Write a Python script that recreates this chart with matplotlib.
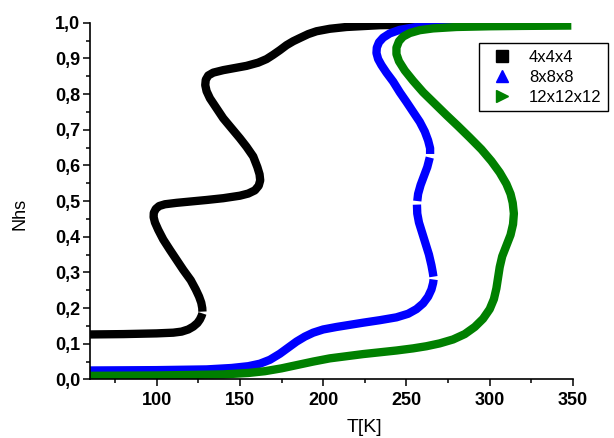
"""Nhs vs temperature for three lattice sizes."""

import matplotlib

matplotlib.use("Agg")
import matplotlib.pyplot as plt
import numpy as np
from matplotlib.lines import Line2D
from matplotlib.ticker import FuncFormatter, MultipleLocator

plt.rcParams["font.family"] = ["Liberation Sans", "DejaVu Sans"]

nan = np.nan

# 4x4x4 (small gap in the dense marker band near N = 0.19)
t_4 = [60, 80, 100, 110, 115, 119, 122, 124.5, 126, 127, 127.5, nan, 127.5, 127.4,
       126.8, 125.5, 123.5, 120.5, 116, 112, 108, 104, 101, 99, 98.2, 98.3, 99.5,
       101.5, 105, 112, 121, 130, 140, 150, 155, 159, 161.3, 162.2, 161.8, 160.5, 158,
       154, 150, 145, 140, 136, 132, 130, 129.2, 129.5, 131, 134, 140, 147, 154, 161,
       166, 170, 174, 178, 182, 186, 191, 196, 204, 214, 234, 260, 300, 330]
n_4 = [0.126, 0.127, 0.129, 0.131, 0.134, 0.140, 0.148, 0.158, 0.168, 0.178, 0.185,
       nan, 0.190, 0.200, 0.215, 0.232, 0.252, 0.278, 0.307, 0.335, 0.363, 0.392,
       0.419, 0.440, 0.455, 0.467, 0.478, 0.486, 0.491, 0.495, 0.499, 0.503, 0.508,
       0.515, 0.521, 0.530, 0.543, 0.558, 0.575, 0.595, 0.625, 0.652, 0.676, 0.704,
       0.732, 0.760, 0.788, 0.808, 0.825, 0.840, 0.852, 0.860, 0.867, 0.873, 0.879,
       0.888, 0.898, 0.910, 0.923, 0.937, 0.948, 0.957, 0.968, 0.976, 0.983, 0.988,
       0.993, 0.995, 0.996, 0.997]

# 8x8x8 (three small gaps)
t_8 = [60, 100, 130, 145, 155, 162, 168, 174, 179, 184, 189, 194, 200, 208, 216, 224,
       234, 244, 251, 256, 260, 263, 265, 266, 266.3, nan, 266.2, 265.8, 265, 263.5,
       261.5, 259.5, 257.5, 256.5, 256.3, nan, 256.5, 257, 258.5, 260.5, 262.5, 264,
       nan, 264.2, 264.2, 263, 261, 258, 254, 250, 246, 242, 238, 235, 233, 232, 232.2,
       233.5, 236, 240, 246, 256, 270, 290, 310]
n_8 = [0.025, 0.026, 0.028, 0.032, 0.037, 0.044, 0.055, 0.072, 0.089, 0.106, 0.120,
       0.131, 0.140, 0.147, 0.153, 0.159, 0.166, 0.174, 0.184, 0.197, 0.213, 0.232,
       0.252, 0.270, 0.280, nan, 0.288, 0.300, 0.320, 0.350, 0.380, 0.410, 0.440,
       0.465, 0.490, nan, 0.500, 0.520, 0.545, 0.570, 0.595, 0.622, nan, 0.632, 0.648,
       0.670, 0.695, 0.722, 0.750, 0.778, 0.805, 0.835, 0.860, 0.881, 0.898, 0.915,
       0.930, 0.945, 0.958, 0.970, 0.980, 0.988, 0.993, 0.995, 0.996]

# 12x12x12
t_12 = [60, 100, 140, 155, 165, 175, 184, 194, 204, 214, 224, 234, 244, 254, 262, 270,
        278, 285, 291, 296, 300, 302.5, 304, 305, 306, 307.5, 310, 312.5, 314, 314.5,
        313.8, 312.5, 310, 306, 301, 295, 288, 281, 274, 267, 260, 254, 249, 245.5, 244,
        244, 245.5, 248, 252, 258, 266, 280, 300, 320, 349]
n_12 = [0.010, 0.011, 0.014, 0.018, 0.023, 0.031, 0.040, 0.050, 0.059, 0.065, 0.071,
        0.076, 0.081, 0.087, 0.093, 0.101, 0.112, 0.127, 0.147, 0.170, 0.197, 0.225,
        0.255, 0.285, 0.315, 0.345, 0.375, 0.405, 0.435, 0.465, 0.495, 0.520, 0.548,
        0.580, 0.612, 0.645, 0.678, 0.710, 0.741, 0.773, 0.805, 0.837, 0.866, 0.892,
        0.912, 0.930, 0.948, 0.961, 0.971, 0.979, 0.984, 0.988, 0.990, 0.991, 0.992]

series = [
    ("4x4x4", t_4, n_4, "black", "s"),
    ("8x8x8", t_8, n_8, "#0000ff", "^"),
    ("12x12x12", t_12, n_12, "#008000", ">"),
]

fig = plt.figure(figsize=(6.14, 4.38), dpi=100)
ax = fig.add_axes([90 / 614, 1 - 379.4 / 438, 483 / 614, 356.7 / 438])

handles = []
for label, t, n, color, marker in series:
    ax.plot(t, n, color=color, lw=6, solid_capstyle="butt", solid_joinstyle="round")
    handles.append(Line2D([], [], ls="none", marker=marker, color=color, markersize=8,
                          label=label))

ax.set_xlim(60, 350)
ax.set_ylim(0, 1.0)
ax.xaxis.set_major_locator(MultipleLocator(50))
ax.xaxis.set_minor_locator(MultipleLocator(25))
ax.yaxis.set_major_locator(MultipleLocator(0.1))
ax.yaxis.set_minor_locator(MultipleLocator(0.05))
ax.yaxis.set_major_formatter(FuncFormatter(lambda v, _: f"{v:.1f}".replace(".", ",")))

for side in ("top", "right"):
    ax.spines[side].set_visible(False)
for side in ("left", "bottom"):
    ax.spines[side].set_linewidth(1.2)

ax.tick_params(which="major", direction="out", length=5, width=1.1, labelsize=13, pad=2)
ax.tick_params(which="minor", direction="out", length=3, width=1.1)
ax.tick_params(axis="x", which="major", pad=4)
for lab in ax.get_xticklabels() + ax.get_yticklabels():
    lab.set_fontweight("bold")

ax.set_xlabel("T[K]", fontsize=14)
ax.xaxis.set_label_coords(0.569, -0.112)
ax.set_ylabel("Nhs", fontsize=13)
ax.yaxis.set_label_coords(-0.128, 0.464)

leg = ax.legend(handles=handles, loc="upper left", bbox_to_anchor=(0.805, 0.943),
                borderaxespad=0, fontsize=12, fancybox=False, framealpha=1,
                edgecolor="black", handlelength=2.0, handletextpad=0.6,
                labelspacing=0.3, borderpad=0.4)
leg.get_frame().set_linewidth(1.0)

fig.savefig("out.png", dpi=100)
